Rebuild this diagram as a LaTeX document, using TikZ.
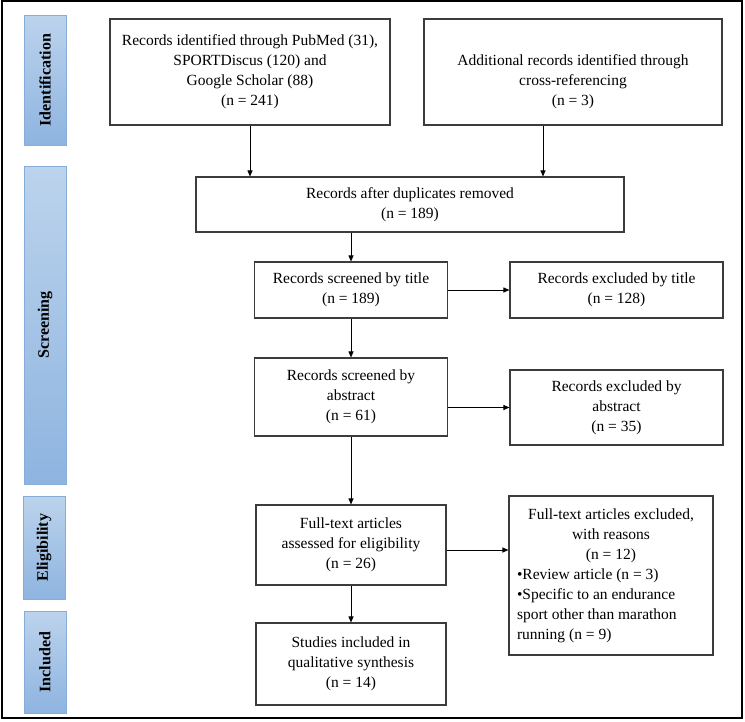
\documentclass[tikz,border=0pt]{standalone}
\usepackage{fontspec}
\setmainfont{Liberation Serif}
\usetikzlibrary{arrows.meta}
\definecolor{boxline}{HTML}{3C3C3C}
\definecolor{stageline}{HTML}{86ACD8}
\definecolor{stagetop}{HTML}{BCD3EC}
\definecolor{stagebot}{HTML}{8EB4E0}
\begin{document}
\begin{tikzpicture}[x=1pt,y=1pt]
\tikzstyle{every node}=[font=\fontsize{15.5}{20}\selectfont]
\tikzstyle{box}=[draw=boxline, line width=1.1pt, align=center, inner sep=2pt]
\tikzstyle{stage}=[draw=stageline, line width=0.8pt, top color=stagetop, bottom color=stagebot, minimum width=42, inner sep=0pt, font=\fontsize{16}{18}\selectfont\bfseries]
\tikzstyle{arr}=[-{Triangle[length=6pt,width=5pt]}, line width=0.9pt]
\useasboundingbox (0,0) rectangle (745,-721);
\draw[line width=1.4pt] (2,-1) rectangle (742,-718);
% phases on the left
\node[stage, minimum height=130] (sident) at (45,-80) {\rotatebox{90}{Identification}};
\node[stage, minimum height=318] (sscreen) at (45,-325) {\rotatebox{90}{Screening}};
\node[stage, minimum height=103] (selig) at (44,-547.5) {\rotatebox{90}{Eligibility}};
\node[stage, minimum height=102] (sincl) at (45,-662) {\rotatebox{90}{Included}};
% flow boxes
\node[box, minimum width=280, minimum height=106] (found) at (250,-72) {Records identified through PubMed (31),\\ SPORTDiscus (120) and\\ Google Scholar (88)\\ (n = 241)};
\node[box, minimum width=298, minimum height=106] (extra) at (573,-72) {\rule{0pt}{30pt}Additional records identified through\\ cross-referencing\\ (n = 3)};
\node[box, minimum width=428, minimum height=55] (nodup) at (410,-204.5) {Records after duplicates removed\\ (n = 189)};
\node[box, minimum width=193, minimum height=56] (title) at (351,-290) {Records screened by title\\ (n = 189)};
\node[box, minimum width=213, minimum height=56] (extitle) at (616.5,-290) {Records excluded by title\\ (n = 128)};
\node[box, minimum width=193, minimum height=78] (abstr) at (351,-397) {Records screened by\\ abstract\\ (n = 61)};
\node[box, minimum width=213, minimum height=75] (exabstr) at (616.5,-407.5) {Records excluded by\\ abstract\\ (n = 35)};
\node[box, minimum width=190, minimum height=80] (full) at (351,-545) {Full-text articles\\ assessed for eligibility\\ (n = 26)};
\node[box, minimum width=190, minimum height=82] (incl) at (351,-664) {Studies included in\\ qualitative synthesis\\ (n = 14)};
\node[box, minimum width=204, minimum height=159] (exfull) at (611,-575.5) {Full-text articles excluded,\\ with reasons\\ (n = 12)\\ \makebox[188pt][l]{•Review article (n = 3)}\\ \makebox[188pt][l]{•Specific to an endurance}\\ \makebox[188pt][l]{sport other than marathon}\\ \makebox[188pt][l]{running (n = 9)}};
% connectors
\coordinate (e2) at ([xshift=-30pt]extra.south);
\coordinate (e8) at ([yshift=-5pt]full.east);
\draw[arr] (found.south) -- (found.south |- nodup.north);
\draw[arr] (e2) -- (e2 |- nodup.north);
\draw[arr] (nodup.south -| title.north) -- (title.north);
\draw[arr] (title.east) -- (extitle.west);
\draw[arr] (title.south) -- (abstr.north);
\draw[arr] (abstr.east |- exabstr.west) -- (exabstr.west);
\draw[arr] (abstr.south) -- (full.north);
\draw[arr] (e8) -- (e8 -| exfull.west);
\draw[arr] (full.south) -- (incl.north);
\end{tikzpicture}
\end{document}
